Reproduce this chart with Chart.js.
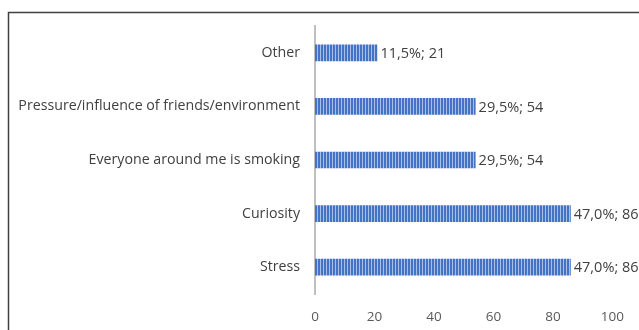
<!DOCTYPE html>
<html><head><meta charset="utf-8">
<script src="https://cdn.jsdelivr.net/npm/chart.js@4.4.0/dist/chart.umd.min.js"></script>
<style>html,body{margin:0;padding:0;background:#fff;overflow:hidden}#wrap{width:639px;height:330px;position:relative}</style>
</head><body><div id="wrap"><canvas id="c" width="639" height="330"></canvas></div>
<script>
const categories = ["Other","Pressure/influence of friends/environment","Everyone around me is smoking","Curiosity","Stress"];
const counts = [21,54,54,86,86];
const percents = [11.5,29.5,29.5,47.0,47.0];
const xTicks = [0,20,40,60,80,100];

function makePattern(){
  const p=document.createElement('canvas');p.width=3;p.height=4;
  const g=p.getContext('2d');
  g.fillStyle='#4472c4';g.fillRect(0,0,3,4);
  g.fillStyle='#a9bfe8';g.fillRect(2,0,1,4);
  return g.createPattern(p,'repeat');
}
const FONT="'Open Sans', sans-serif";
const frame={id:'frame',afterDraw(ch){const c=ch.ctx;c.save();c.strokeStyle='#404040';c.lineWidth=1.5;c.beginPath();c.moveTo(8.5,330);c.lineTo(8.5,12.5);c.lineTo(639,12.5);c.stroke();c.restore();}};
const labels={id:'lbls',afterDatasetsDraw(ch){const c=ch.ctx;const m=ch.getDatasetMeta(0);c.save();c.font="14.5px "+FONT;c.fillStyle='#404040';c.textBaseline='middle';c.textAlign='left';
 m.data.forEach((b,i)=>{c.fillText(percents[i].toFixed(1).replace('.',',')+'%; '+counts[i],b.x+3,b.y+1);});c.restore();}};
new Chart(document.getElementById('c'),{
 type:'bar',
 data:{labels:categories,datasets:[{data:counts,backgroundColor:makePattern(),barPercentage:0.6,categoryPercentage:0.52}]},
 options:{indexAxis:'y',responsive:false,animation:false,
  layout:{padding:{left:0,right:26,top:26,bottom:0}},
  plugins:{legend:{display:false},tooltip:{enabled:false}},
  scales:{
   x:{min:0,max:100,afterBuildTicks(a){a.ticks=xTicks.map(v=>({value:v}));},grid:{display:false,drawTicks:false},border:{display:false},
      afterFit(a){a.height=36;},
      ticks:{color:'#595959',font:{family:FONT,size:13.5},padding:15,maxRotation:0}},
   y:{grid:{display:false,drawTicks:false},border:{display:true,color:'#bfbfbf',width:2},
      afterFit(a){a.width=315;},
      ticks:{color:'#404040',font:{family:FONT,size:14.2},padding:15}}
  }},
 plugins:[frame,labels]
});
</script></body></html>
